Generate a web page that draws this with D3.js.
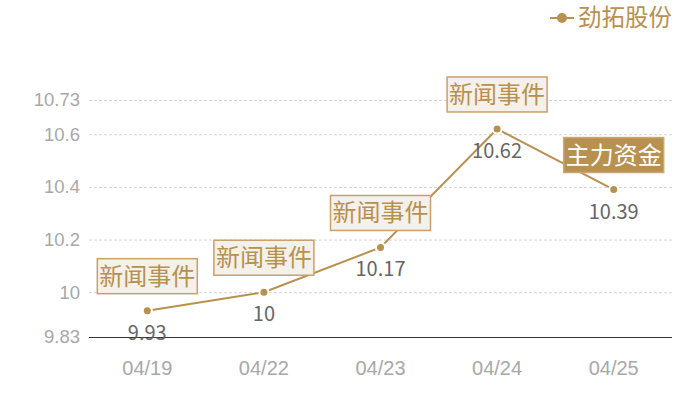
<!DOCTYPE html>
<html><head><meta charset="utf-8">
<script src="https://cdn.jsdelivr.net/npm/d3@7"></script>
<style>body{margin:0;background:#fff;} svg{display:block;font-family:"Noto Sans CJK SC","Noto Sans",sans-serif;}</style>
</head><body><svg id="c" width="700" height="400"></svg>
<script>
const categories = ["04/19","04/22","04/23","04/24","04/25"];
const values = [9.93, 10, 10.17, 10.62, 10.39];
const yTicks = [9.83, 10, 10.2, 10.4, 10.6, 10.73];
const annotations = ["新闻事件","新闻事件","新闻事件","新闻事件","主力资金"];
const annotationFilled = [false,false,false,false,true];
const seriesName = "劲拓股份";

const gold = "#b8904f";
const svg = d3.select("#c");
const m = {l:89, r:672, t:100, b:337};
const x = d3.scaleBand().domain(categories).range([m.l, m.r]);
const y = d3.scaleLinear().domain([9.83, 10.73]).range([m.b, m.t]);
const cx = d => x(d) + x.bandwidth()/2;

// grid
svg.append("g").selectAll("line").data(yTicks.slice(1)).join("line")
  .attr("x1", m.l).attr("x2", m.r).attr("y1", d=>y(d)+0.5).attr("y2", d=>y(d)+0.5)
  .attr("stroke", "#d4d4d4").attr("stroke-dasharray", "3,2");
// y axis labels
const yAxis = d3.axisLeft(y).tickValues(yTicks).tickSize(0).tickPadding(9).tickFormat(d=>String(d));
const ya = svg.append("g").attr("transform", `translate(${m.l},0)`).call(yAxis);
ya.select(".domain").remove();
ya.selectAll("text").attr("fill", "#a8a8a8").attr("font-size", 18.5).attr("font-family", "inherit");
// baseline
svg.append("line").attr("x1", m.l).attr("x2", m.r).attr("y1", m.b+0.5).attr("y2", m.b+0.5).attr("stroke", "#333");
// x axis
const xAxis = d3.axisBottom(x).tickSize(0).tickPadding(24);
const xa = svg.append("g").attr("transform", `translate(0,${m.b})`).call(xAxis);
xa.select(".domain").remove();
xa.selectAll("text").attr("fill", "#a8a8a8").attr("font-size", 20).attr("font-family", "inherit");

// line
const line = d3.line().x((d,i)=>cx(categories[i])).y(d=>y(d));
svg.append("path").datum(values).attr("d", line).attr("fill","none").attr("stroke", gold).attr("stroke-width", 2);
svg.append("g").selectAll("circle").data(values).join("circle")
  .attr("cx", (d,i)=>cx(categories[i])).attr("cy", d=>y(d)).attr("r", 4.5)
  .attr("fill", gold).attr("stroke", "#fff").attr("stroke-width", 2);
// value labels
svg.append("g").selectAll("text").data(values).join("text")
  .attr("x", (d,i)=>cx(categories[i])).attr("y", d=>y(d)+29)
  .attr("text-anchor","middle").attr("font-size", 20).attr("fill", "#666")
  .text(d=>String(d));

// annotations
const ag = svg.append("g").selectAll("g").data(values).join("g")
  .attr("transform", (d,i)=>`translate(${cx(categories[i])},${y(d)-17})`);
ag.append("rect").attr("x", -50).attr("y", -35).attr("width", 100).attr("height", 35)
  .attr("fill", (d,i)=>annotationFilled[i] ? gold : "#f4f0ea")
  .attr("stroke", (d,i)=>annotationFilled[i] ? "#c9a873" : "#c9a06a").attr("stroke-width", 1.5);
ag.append("text").attr("x", 0).attr("y", -9).attr("text-anchor","middle").attr("font-size", 24)
  .attr("fill", (d,i)=>annotationFilled[i] ? "#fff" : gold)
  .text((d,i)=>annotations[i]);

// legend
const lg = svg.append("g").attr("transform", "translate(550,18)");
lg.append("line").attr("x1",0).attr("x2",24).attr("y1",0).attr("y2",0).attr("stroke", gold).attr("stroke-width",2);
lg.append("circle").attr("cx",12).attr("cy",0).attr("r",5).attr("fill",gold);
lg.append("text").attr("x",28).attr("y",0).attr("dy","0.36em").attr("font-size",23.5).attr("fill",gold).text(seriesName);
</script></body></html>
